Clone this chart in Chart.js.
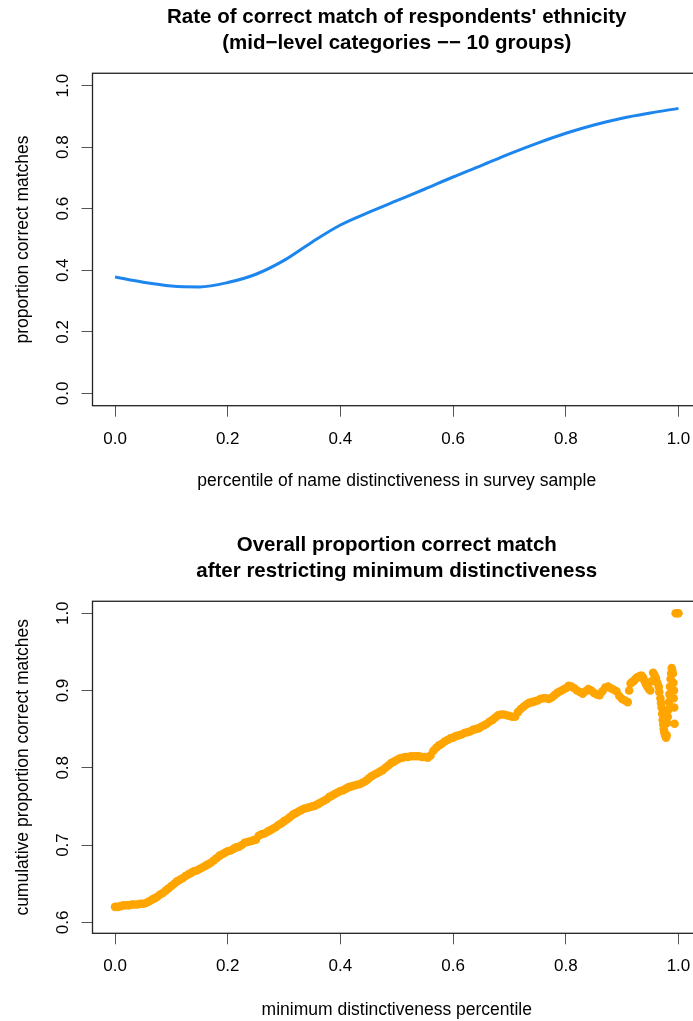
<!DOCTYPE html>
<html>
<head>
<meta charset="utf-8">
<script src="https://cdn.jsdelivr.net/npm/chart.js@4.4.1/dist/chart.umd.min.js"></script>
<style>
  html, body { margin: 0; padding: 0; background: #fff; overflow: hidden; width: 693px; height: 1021px; }
  canvas { display: block; }
</style>
</head>
<body>
<canvas id="rateChart" width="720" height="510"></canvas>
<canvas id="cumChart" width="720" height="511"></canvas>
<script>
// smoothed rate of correct match by percentile of name distinctiveness
const pctl = [0, 0.05, 0.1, 0.15, 0.2, 0.25, 0.3, 0.35, 0.4, 0.45, 0.5,
              0.55, 0.6, 0.65, 0.7, 0.75, 0.8, 0.85, 0.9, 0.95, 1];
const matchRate = [0.378, 0.361, 0.349, 0.346, 0.360, 0.387, 0.432, 0.492, 0.547, 0.588, 0.626,
                   0.664, 0.703, 0.740, 0.778, 0.813, 0.845, 0.872, 0.894, 0.911, 0.926];

// overall proportion correct once names below the minimum percentile are dropped
const minPctl = [
  0.000, 0.005, 0.010, 0.015, 0.020, 0.025, 0.030, 0.035, 0.040, 0.045,
  0.050, 0.055, 0.060, 0.065, 0.070, 0.075, 0.080, 0.085, 0.090, 0.095,
  0.100, 0.105, 0.110, 0.115, 0.120, 0.125, 0.130, 0.135, 0.140, 0.145,
  0.150, 0.155, 0.160, 0.165, 0.170, 0.175, 0.180, 0.185, 0.190, 0.195,
  0.200, 0.205, 0.210, 0.215, 0.220, 0.225, 0.230, 0.235, 0.240, 0.245,
  0.250, 0.255, 0.260, 0.265, 0.270, 0.275, 0.280, 0.285, 0.290, 0.295,
  0.300, 0.305, 0.310, 0.315, 0.320, 0.325, 0.330, 0.335, 0.340, 0.345,
  0.350, 0.355, 0.360, 0.365, 0.370, 0.375, 0.380, 0.385, 0.390, 0.395,
  0.400, 0.405, 0.410, 0.415, 0.420, 0.425, 0.430, 0.435, 0.440, 0.445,
  0.450, 0.455, 0.460, 0.465, 0.470, 0.475, 0.480, 0.485, 0.490, 0.495,
  0.500, 0.505, 0.510, 0.515, 0.520, 0.525, 0.530, 0.535, 0.540, 0.545,
  0.550, 0.555, 0.560, 0.565, 0.570, 0.575, 0.580, 0.585, 0.590, 0.595,
  0.600, 0.605, 0.610, 0.615, 0.620, 0.625, 0.630, 0.635, 0.640, 0.645,
  0.650, 0.655, 0.660, 0.665, 0.670, 0.675, 0.680, 0.685, 0.690, 0.695,
  0.700, 0.705, 0.710, 0.715, 0.720, 0.725, 0.730, 0.735, 0.740, 0.745,
  0.750, 0.755, 0.760, 0.765, 0.770, 0.775, 0.780, 0.785, 0.790, 0.795,
  0.800, 0.805, 0.810, 0.815, 0.820, 0.825, 0.830, 0.835, 0.840, 0.845,
  0.850, 0.855, 0.860, 0.865, 0.870, 0.875, 0.880, 0.885, 0.890, 0.895,
  0.900, 0.905, 0.910, 0.915, 0.920, 0.925, 0.930, 0.935, 0.940, 0.945,
  0.950, 0.955, 0.960, 0.965, 0.968, 0.970, 0.972, 0.974, 0.976, 0.978,
  0.980, 0.982, 0.984, 0.986, 0.988, 0.990, 0.991, 0.992, 0.993, 0.995,
  0.9975, 1.000,
  // the last few percent hold few names, so the tail is read more finely
  0.9125, 0.9175, 0.9225, 0.9275, 0.9325, 0.9375, 0.9425, 0.9475, 0.9525, 0.9575,
  0.9625, 0.966, 0.969, 0.971, 0.973, 0.975, 0.977, 0.979, 0.981, 0.983,
  0.985, 0.987, 0.989, 0.9915, 0.9925
];
const cumCorrect = [
  0.620, 0.620, 0.621, 0.622, 0.622, 0.622, 0.623, 0.623, 0.623, 0.624,
  0.624, 0.625, 0.627, 0.629, 0.631, 0.633, 0.636, 0.638, 0.641, 0.644,
  0.647, 0.650, 0.653, 0.655, 0.657, 0.660, 0.662, 0.664, 0.666, 0.667,
  0.669, 0.671, 0.673, 0.675, 0.677, 0.680, 0.683, 0.686, 0.688, 0.690,
  0.692, 0.693, 0.695, 0.697, 0.698, 0.700, 0.703, 0.704, 0.705, 0.706,
  0.707, 0.712, 0.714, 0.715, 0.717, 0.719, 0.721, 0.723, 0.726, 0.728,
  0.731, 0.733, 0.736, 0.739, 0.741, 0.743, 0.745, 0.747, 0.748, 0.749,
  0.750, 0.751, 0.753, 0.755, 0.757, 0.759, 0.762, 0.764, 0.766, 0.768,
  0.770, 0.771, 0.773, 0.775, 0.776, 0.777, 0.778, 0.779, 0.781, 0.783,
  0.786, 0.789, 0.791, 0.793, 0.795, 0.797, 0.800, 0.803, 0.806, 0.808,
  0.810, 0.812, 0.813, 0.814, 0.814, 0.815, 0.815, 0.815, 0.815, 0.814,
  0.814, 0.813, 0.816, 0.822, 0.826, 0.829, 0.831, 0.834, 0.836, 0.838,
  0.839, 0.841, 0.842, 0.843, 0.845, 0.846, 0.847, 0.849, 0.850, 0.851,
  0.853, 0.855, 0.857, 0.860, 0.862, 0.865, 0.868, 0.869, 0.869, 0.868,
  0.867, 0.866, 0.866, 0.872, 0.876, 0.879, 0.882, 0.884, 0.885, 0.886,
  0.887, 0.889, 0.890, 0.890, 0.889, 0.891, 0.894, 0.897, 0.899, 0.901,
  0.903, 0.906, 0.905, 0.903, 0.900, 0.898, 0.896, 0.899, 0.902, 0.900,
  0.897, 0.895, 0.894, 0.899, 0.904, 0.905, 0.903, 0.901, 0.899, 0.893,
  0.889, 0.887, 0.885, 0.909, 0.912, 0.916, 0.918, 0.919, 0.912, 0.905,
  0.900, 0.923, 0.916, 0.905, 0.890, 0.878, 0.862, 0.850, 0.843, 0.839,
  0.858, 0.875, 0.895, 0.915, 0.929, 0.922, 0.910, 0.900, 0.857, 1.000,
  1.000, 1.000,
  0.900, 0.911, 0.914, 0.917, 0.919, 0.916, 0.908, 0.902, 0.912, 0.920,
  0.910, 0.898, 0.884, 0.870, 0.856, 0.846, 0.841, 0.842, 0.866, 0.885,
  0.905, 0.922, 0.926, 0.890, 0.878
];

const xTicks = [0, 0.2, 0.4, 0.6, 0.8, 1.0];
const rateTicks = [0, 0.2, 0.4, 0.6, 0.8, 1.0];
const cumTicks = [0.6, 0.7, 0.8, 0.9, 1.0];

Chart.defaults.font.family = "'Liberation Sans', Arial, Helvetica, sans-serif";
Chart.defaults.color = '#000';

// box around the plotting region
const frame = {
  id: 'frame',
  afterDatasetsDraw(chart) {
    const a = chart.chartArea, ctx = chart.ctx;
    ctx.save();
    ctx.strokeStyle = '#222';
    ctx.lineWidth = 1.3;
    ctx.strokeRect(a.left, a.top, a.right - a.left, a.bottom - a.top);
    ctx.restore();
  }
};

function scales(yMin, yMax, yTicks, xTitle, yTitle, xAxisH, xTitlePad) {
  return {
    x: {
      type: 'linear', min: -0.04, max: 1.04,
      afterBuildTicks: s => { s.ticks = xTicks.map(v => ({ value: v })); },
      afterFit: s => { s.height = xAxisH; },
      grid: { drawOnChartArea: false, tickLength: 11, color: '#555', lineWidth: 1 },
      border: { display: false },
      ticks: { padding: 12, maxRotation: 0, autoSkip: false, font: { size: 17 },
               callback: v => v.toFixed(1) },
      title: { display: true, text: xTitle, font: { size: 17.5 },
               padding: { top: 0, bottom: xTitlePad } }
    },
    y: {
      type: 'linear', min: yMin, max: yMax,
      afterBuildTicks: s => { s.ticks = yTicks.map(v => ({ value: v })); },
      afterFit: s => { s.width = 92.5; },
      grid: { drawOnChartArea: false, tickLength: 11, color: '#555', lineWidth: 1 },
      border: { display: false },
      ticks: { padding: 6, minRotation: 90, maxRotation: 90, crossAlign: 'center',
               autoSkip: false, font: { size: 17 }, callback: v => v.toFixed(1) },
      title: { display: true, text: yTitle, font: { size: 17.5 },
               padding: { top: 13, bottom: 0 } }
    }
  };
}

function titleOpts(lines, padTop) {
  return {
    display: true, text: lines, fullSize: false,
    font: { size: 20.5, weight: 'bold', lineHeight: 1.27 },
    padding: { top: padTop, bottom: 16.7 }
  };
}

new Chart(document.getElementById('rateChart'), {
  type: 'line',
  data: {
    datasets: [{
      data: pctl.map((p, i) => ({ x: p, y: matchRate[i] })),
      borderColor: '#1C86EE',
      borderWidth: 3,
      pointRadius: 0,
      cubicInterpolationMode: 'monotone',
      fill: false
    }]
  },
  options: {
    responsive: false,
    animation: false,
    events: [],
    layout: { padding: { left: 0, right: 19, top: 0, bottom: 0 } },
    plugins: {
      legend: { display: false },
      tooltip: { enabled: false },
      title: titleOpts(["Rate of correct match of respondents' ethnicity",
                        "(mid\u2212level categories \u2212\u2212 10 groups)"], 4.5)
    },
    scales: scales(-0.04, 1.04, rateTicks,
                   'percentile of name distinctiveness in survey sample',
                   'proportion correct matches', 104.3, 18)
  },
  plugins: [frame]
});

new Chart(document.getElementById('cumChart'), {
  type: 'scatter',
  data: {
    datasets: [{
      data: minPctl.map((p, i) => ({ x: p, y: cumCorrect[i] })),
      backgroundColor: '#FFA500',
      borderWidth: 0,
      pointRadius: 4.3
    }]
  },
  options: {
    responsive: false,
    animation: false,
    events: [],
    layout: { padding: { left: 0, right: 19, top: 0, bottom: 0 } },
    plugins: {
      legend: { display: false },
      tooltip: { enabled: false },
      title: titleOpts(['Overall proportion correct match',
                        'after restricting minimum distinctiveness'], 22.5)
    },
    scales: scales(0.5858, 1.0155, cumTicks,
                   'minimum distinctiveness percentile',
                   'cumulative proportion correct matches', 87.7, 0.5)
  },
  plugins: [frame]
});
</script>
</body>
</html>
